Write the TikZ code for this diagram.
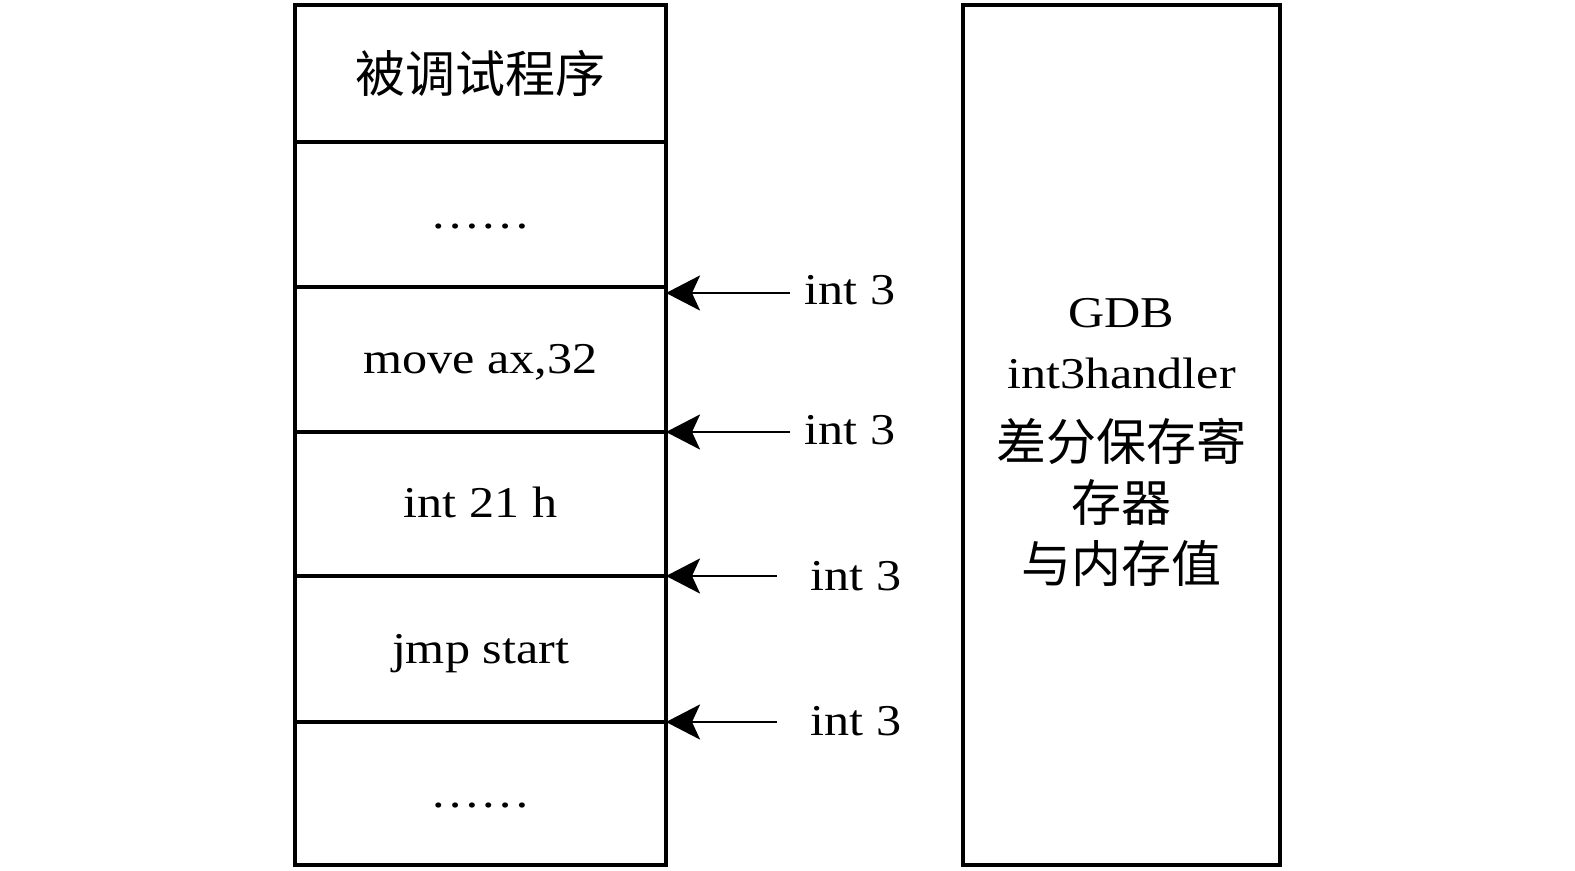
\documentclass[tikz,border=0pt]{standalone}
\usepackage{fontspec}
\setmainfont{Liberation Serif}[FakeStretch=1.14]
\newfontfamily\zhfamily{Noto Sans CJK SC}
\newcommand\zh[1]{{\zhfamily\fontsize{25}{30.5}\selectfont #1}}
\usetikzlibrary{arrows.meta}
\tikzset{
  cell/.style={draw, line width=1.6pt, minimum width=185.5pt, inner sep=0pt,
    outer sep=0pt, text height=19pt, text depth=5pt},
  lbl/.style={anchor=base, inner sep=0pt},
  arr/.style={-{Stealth[length=17pt,width=17.5pt,inset=4pt]}, line width=1.4pt},
}
\begin{document}
\begin{tikzpicture}[x=0.5pt, y=-0.5pt, font=\fontsize{22}{30.5}\selectfont]
  \useasboundingbox (0,0) rectangle (1575,871);
  % program in memory
  \node[cell, minimum height=68.5pt, text height=22pt, text depth=3pt] (c0) at (480.5,73.5) {\zh{被调试程序}};
  \node[cell, minimum height=72.5pt] (c1) at (480.5,214.5) {……};
  \node[cell, minimum height=72.5pt] (c2) at (480.5,359.5) {move ax,32};
  \node[cell, minimum height=72pt] (c3) at (480.5,504) {int 21 h};
  \node[cell, minimum height=73pt] (c4) at (480.5,649) {jmp start};
  \node[cell, minimum height=71.5pt] (c5) at (480.5,793.5) {……};
  % handler
  \node[cell, minimum width=158.5pt, minimum height=430pt] (gdb) at (1121.5,435) {};
  \node[align=center, inner sep=0pt] (gdbtxt) at (1121.5,442.5)
    {GDB\\int3handler\\[5.5pt]\zh{差分保存寄}\\\zh{存器}\\\zh{与内存值}};
  % breakpoints
  \coordinate (s1) at (790,293);
  \coordinate (s2) at (790,432);
  \coordinate (s3) at (777,576);
  \coordinate (s4) at (777,722);
  \node[lbl] (i1) at (850,305) {int 3};
  \node[lbl] (i2) at (850,445) {int 3};
  \node[lbl] (i3) at (856,590) {int 3};
  \node[lbl] (i4) at (856,735) {int 3};
  \draw[arr] (s1) -- (s1 -| c1.east);
  \draw[arr] (s2) -- (s2 -| c2.east);
  \draw[arr] (s3) -- (s3 -| c3.east);
  \draw[arr] (s4) -- (s4 -| c4.east);
\end{tikzpicture}
\end{document}
